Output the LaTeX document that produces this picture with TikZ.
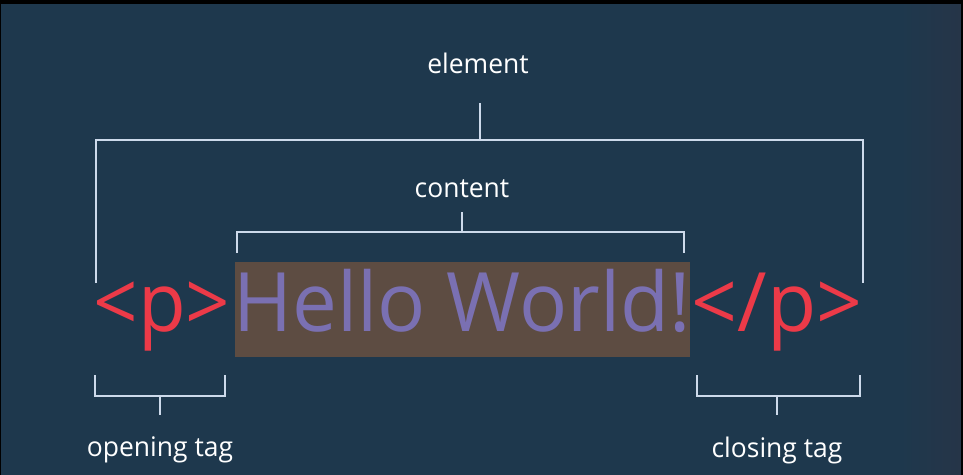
\documentclass[tikz,border=0pt]{standalone}
\usepackage{fontspec}
\setmainfont{Open Sans}
\definecolor{bg}{RGB}{30,56,77}
\definecolor{bgr}{RGB}{38,53,72}
\definecolor{brk}{RGB}{205,218,235}
\definecolor{tagred}{RGB}{236,58,72}
\definecolor{hwpurple}{RGB}{122,112,178}
\definecolor{hlbrown}{RGB}{93,76,66}
\tikzset{
  brline/.style={draw=brk, line width=2pt, line cap=butt},
  lbl/.style={text=white, font=\fontsize{27}{31}\selectfont, inner sep=0pt, xscale=0.98},
  big/.style={font=\fontsize{82}{90}\selectfont, inner sep=0pt, anchor=base}
}
\begin{document}
\begin{tikzpicture}[x=1pt,y=-1pt]
\useasboundingbox (0,0) rectangle (963,474);
\fill[bg] (-5,-5) rectangle (970,480);
\shade[left color=bg, right color=bgr] (900,-5) rectangle (961,480);
\fill[black] (-5,-5) rectangle (970,4);
\fill[black] (961,-5) rectangle (970,480);
\fill[black] (-5,-5) rectangle (1,480);
% highlight
\fill[hlbrown] (235,262) rectangle (690,357);
% texts
\node[big, text=hwpurple, xscale=0.975] (hw) at (462,331) {Hello World!};
\node[big, text=tagred, xscale=0.95] (open) at (162,331) {<p>};
\node[big, text=tagred, xscale=0.98] (close) at (777,331) {</p>};
\node[lbl] (element) at (478,63) {element};
\node[lbl] (content) at (462,189) {content};
\node[lbl] (otag) at (160,450) {opening tag};
\node[lbl] (ctag) at (777,450) {closing tag};
% element bracket
\coordinate (eTop) at (480,103);
\coordinate (eMid) at (480,140);
\coordinate (eL) at (96,140);
\coordinate (eR) at (863,140);
\coordinate (eLb) at (96,283);
\coordinate (eRb) at (863,283);
\draw[brline] (eTop) -- (eMid);
\draw[brline] (eLb) -- (eL) -- (eR) -- (eRb);
% content bracket
\coordinate (cTop) at (462,212);
\coordinate (cMid) at (462,232);
\coordinate (cL) at (237,232);
\coordinate (cR) at (684,232);
\coordinate (cLb) at (237,253);
\coordinate (cRb) at (684,253);
\draw[brline] (cTop) -- (cMid);
\draw[brline] (cLb) -- (cL) -- (cR) -- (cRb);
% opening bracket
\coordinate (oLt) at (95,375);
\coordinate (oL) at (95,396);
\coordinate (oR) at (225,396);
\coordinate (oRt) at (225,375);
\coordinate (oMid) at (160,396);
\coordinate (oBot) at (160,415);
\draw[brline] (oLt) -- (oL) -- (oR) -- (oRt);
\draw[brline] (oMid) -- (oBot);
% closing bracket
\coordinate (kLt) at (697,375);
\coordinate (kL) at (697,396);
\coordinate (kR) at (860,396);
\coordinate (kRt) at (860,375);
\coordinate (kMid) at (777,396);
\coordinate (kBot) at (777,415);
\draw[brline] (kLt) -- (kL) -- (kR) -- (kRt);
\draw[brline] (kMid) -- (kBot);
\end{tikzpicture}
\end{document}
